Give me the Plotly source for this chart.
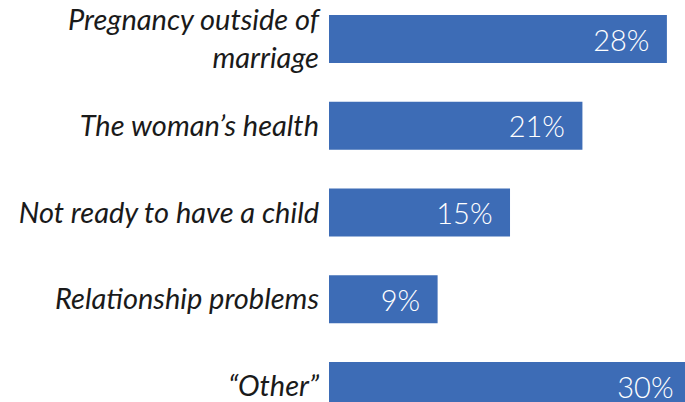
import plotly.graph_objects as go

categories = [
    "Pregnancy outside of<br>marriage",
    "The woman’s health",
    "Not ready to have a child",
    "Relationship problems",
    "“Other”",
]
values = [28, 21, 15, 9, 30]

BAR_COLOR = "#3d6cb6"

fig = go.Figure(
    go.Bar(
        x=values,
        y=categories,
        orientation="h",
        marker=dict(color=BAR_COLOR, line=dict(width=0)),
        width=0.553,
        texttemplate="%{x}%\u2002",
        textposition="inside",
        insidetextanchor="end",
        textfont=dict(family="Lato", size=29, color="white", weight=300),
        cliponaxis=True,
        hoverinfo="skip",
    )
)

fig.update_layout(
    width=685,
    height=402,
    margin=dict(l=329, r=0, t=0, b=0),
    paper_bgcolor="white",
    plot_bgcolor="white",
    showlegend=False,
    uniformtext=dict(mode=False),
)
fig.update_xaxes(
    range=[0, 29.5],
    visible=False,
    showgrid=False,
    zeroline=False,
)
fig.update_yaxes(
    type="category",
    categoryorder="array",
    categoryarray=categories,
    range=[4.184, -0.45],
    showgrid=False,
    zeroline=False,
    showline=False,
    ticks="",
    ticklabelstandoff=9,
    tickfont=dict(family="Lato", size=29, color="#1a1a1a", style="italic"),
)

fig.write_html(
    "out.html",
    config={"displayModeBar": False},
    post_script="document.body.style.margin='0';document.body.style.overflow='hidden';",
)
